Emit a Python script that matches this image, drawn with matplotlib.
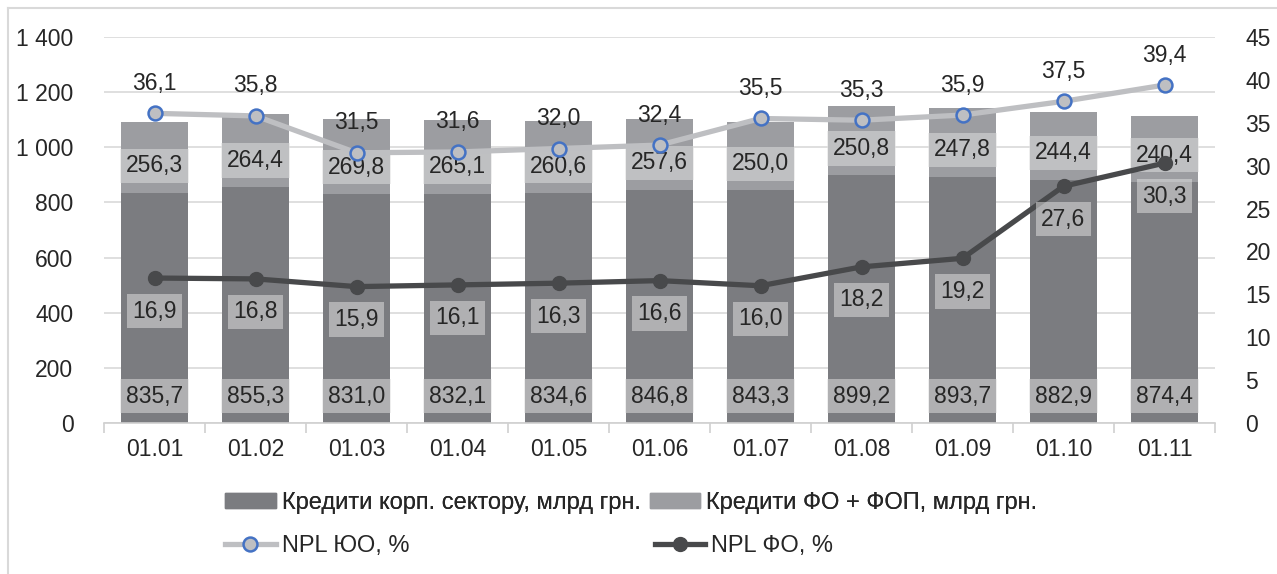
import matplotlib
matplotlib.use("Agg")
import matplotlib.pyplot as plt
import numpy as np
from matplotlib.lines import Line2D
from matplotlib.patches import Patch

plt.rcParams['font.family'] = ['Liberation Sans', 'DejaVu Sans']

categories = ["01.01", "01.02", "01.03", "01.04", "01.05", "01.06", "01.07", "01.08", "01.09", "01.10", "01.11"]
corp_loans = [835.7, 855.3, 831.0, 832.1, 834.6, 846.8, 843.3, 899.2, 893.7, 882.9, 874.4]
fo_loans = [256.3, 264.4, 269.8, 265.1, 260.6, 257.6, 250.0, 250.8, 247.8, 244.4, 240.4]
npl_uo = [36.1, 35.8, 31.5, 31.6, 32.0, 32.4, 35.5, 35.3, 35.9, 37.5, 39.4]
npl_fo = [16.9, 16.8, 15.9, 16.1, 16.3, 16.6, 16.0, 18.2, 19.2, 27.6, 30.3]
left_ticks = [0, 200, 400, 600, 800, 1000, 1200, 1400]
right_ticks = [0, 5, 10, 15, 20, 25, 30, 35, 40, 45]

def fmt(v):
    return f"{v:.1f}".replace(".", ",")

def fmt_int(v):
    return f"{int(v):,}".replace(",", " ")

W, H = 1277, 574
fig = plt.figure(figsize=(W / 100, H / 100), dpi=100)
ax = fig.add_axes([104 / W, 1 - 423 / H, (1215 - 104) / W, (423 - 37) / H])
ax2 = ax.twinx()

FS = 16.5
LFS = 17
C_CORP = "#7b7c80"
C_FO = "#9c9da1"
C_UO_LINE = "#bebfc2"
C_FO_LINE = "#48494b"
TXT = "#262626"

x = np.arange(len(categories))
bw = 0.66
ax.bar(x, corp_loans, bw, color=C_CORP, zorder=2)
ax.bar(x, fo_loans, bw, bottom=corp_loans, color=C_FO, zorder=2)

ax.set_xlim(-0.5, len(categories) - 0.5)
ax.set_ylim(0, 1400)
ax.set_yticks(left_ticks)
ax.set_yticklabels([fmt_int(t) for t in left_ticks])
ax.grid(axis='y', color="#d9d9d9", lw=1.2, zorder=0)
ax.set_axisbelow(True)
for s in ["left", "right", "top"]:
    ax.spines[s].set_visible(False)
    ax2.spines[s].set_visible(False)
ax.spines["bottom"].set_color("#d0d0d0")
ax.spines["bottom"].set_linewidth(1.2)
ax2.spines["bottom"].set_visible(False)
ax.set_xticks(x)
ax.set_xticklabels(categories)
ax.tick_params(axis='x', length=0, pad=11, labelsize=FS, colors=TXT)
ax.set_xticks(np.arange(-0.5, len(categories)), minor=True)
ax.tick_params(axis='x', which='minor', length=7, color="#d0d0d0", width=1.2)
ax.tick_params(axis='y', length=0, pad=22, labelsize=FS, colors=TXT)

ax2.set_ylim(0, 45)
ax2.set_yticks(right_ticks)
ax2.tick_params(axis='y', length=0, pad=22, labelsize=FS, colors=TXT)

ax2.plot(x, npl_uo, color=C_UO_LINE, lw=3.8, marker='o', ms=10, mfc=C_UO_LINE,
         mec="#4472c4", mew=1.8, zorder=3, solid_capstyle='round')
ax2.plot(x, npl_fo, color=C_FO_LINE, lw=3.8, marker='o', ms=10, mfc=C_FO_LINE,
         mec=C_FO_LINE, zorder=3, solid_capstyle='round')

box = dict(boxstyle="square,pad=0.25", fc="#e0e0e0", ec="none", alpha=0.53)
for i in range(len(categories)):
    ax.annotate(fmt(corp_loans[i]), (x[i], 97), ha='center', va='center',
                fontsize=FS, color=TXT, bbox=box, zorder=6)
    ax.annotate(fmt(fo_loans[i]), (x[i], corp_loans[i] + 97), ha='center', va='center',
                fontsize=FS, color=TXT, bbox=box, zorder=6)
    ax2.annotate(fmt(npl_uo[i]), (x[i], npl_uo[i]), xytext=(0, 30), textcoords='offset pixels',
                 ha='center', va='center', fontsize=FS, color=TXT, zorder=6)
    ax2.annotate(fmt(npl_fo[i]), (x[i], npl_fo[i]), xytext=(0, -33), textcoords='offset pixels',
                 ha='center', va='center', fontsize=FS, color=TXT, bbox=box, zorder=6)

# legend
h1 = Patch(color=C_CORP)
h2 = Patch(color=C_FO)
h3 = Line2D([], [], color=C_UO_LINE, lw=3.8, marker='o', ms=10, mfc=C_UO_LINE, mec="#4472c4", mew=1.8)
h4 = Line2D([], [], color=C_FO_LINE, lw=3.8, marker='o', ms=10, mfc=C_FO_LINE, mec=C_FO_LINE)
leg1 = fig.legend([h1, h2], ["Кредити корп. сектору, млрд грн.", "Кредити ФО + ФОП, млрд грн."],
                  loc='center left', bbox_to_anchor=(225 / W, 1 - 503 / H), ncol=2, frameon=False,
                  fontsize=LFS, handlelength=2.15, handleheight=0.6, handletextpad=0.25,
                  columnspacing=0.38, labelcolor=TXT, borderaxespad=0, borderpad=0)
leg2 = fig.legend([h3, h4], ["NPL ЮО, %", "NPL ФО, %"],
                  loc='center left', bbox_to_anchor=(225 / W, 1 - 546 / H), ncol=2, frameon=False,
                  fontsize=LFS, handlelength=2.15, handletextpad=0.25,
                  columnspacing=10.4, labelcolor=TXT, borderaxespad=0, borderpad=0)
fig.add_artist(leg1)

# outer frame
fig.add_artist(Line2D([7.5 / W, 7.5 / W], [0, 1 - 7.5 / H], color="#d9d9d9", lw=1.5, transform=fig.transFigure))
fig.add_artist(Line2D([7.5 / W, 1], [1 - 7.5 / H, 1 - 7.5 / H], color="#d9d9d9", lw=1.5, transform=fig.transFigure))

fig.savefig("out.png", dpi=100)
